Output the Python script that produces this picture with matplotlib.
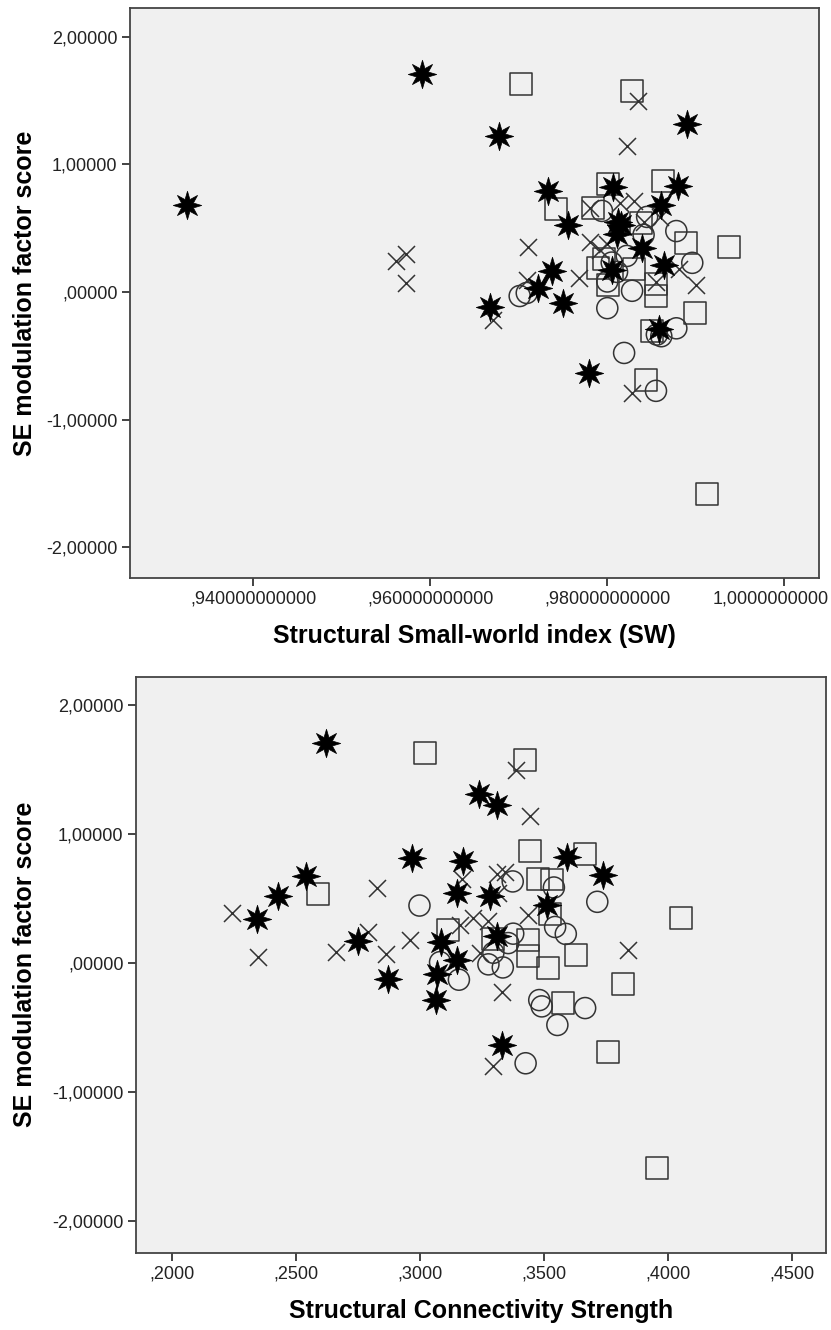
import matplotlib
matplotlib.use("Agg")
import matplotlib.pyplot as plt
from matplotlib.path import Path
from matplotlib.transforms import ScaledTranslation

plt.rcParams['font.family'] = ['Liberation Sans', 'DejaVu Sans']

# ---- data: each group shares y (SE modulation factor score) across both panels ----
# circles
circ_y  = [0.635, 0.588, 0.477, 0.448, 0.282, 0.228, 0.230, 0.157, 0.082, 0.009,
           -0.008, -0.032, -0.127, -0.285, -0.334, -0.347, -0.478, -0.775]
circ_sw = [0.9794, 0.9845, 0.9878, 0.9841, 0.9822, 0.9896, 0.9805, 0.9811, 0.9800, 0.9828,
           0.9709, 0.9701, 0.9800, 0.9878, 0.9856, 0.9861, 0.9819, 0.9855]
circ_sc = [0.3375, 0.3541, 0.3716, 0.2999, 0.3546, 0.3589, 0.3377, 0.3357, 0.3297, 0.3082,
           0.3277, 0.3335, 0.3158, 0.3482, 0.3492, 0.3667, 0.3555, 0.3427]

# squares
sq_y  = [1.628, 1.576, 0.871, 0.846, 0.655, 0.650, 0.537, 0.386, 0.352, 0.256,
         0.185, 0.178, 0.058, 0.065, -0.035, -0.162, -0.305, -0.690, -1.585]
sq_sw = [0.9703, 0.9828, 0.9863, 0.9801, 0.9784, 0.9742, 0.9838, 0.9889, 0.9938, 0.9796,
         0.9789, 0.9830, 0.9801, 0.9855, 0.9855, 0.9899, 0.9850, 0.9844, 0.9913]
sq_sc = [0.3021, 0.3424, 0.3445, 0.3667, 0.3478, 0.3532, 0.2591, 0.3525, 0.4054, 0.3115,
         0.3297, 0.3438, 0.3435, 0.3629, 0.3519, 0.3821, 0.3579, 0.3760, 0.3956]

# crosses
x_y  = [1.498, 1.146, 0.709, 0.696, 0.656, 0.585, 0.546, 0.394, 0.373, 0.355,
        0.332, 0.300, 0.240, 0.182, 0.107, 0.090, 0.081, 0.070, 0.052, -0.220, -0.795]
x_sw = [0.9835, 0.9822, 0.9830, 0.9814, 0.9780, 0.9859, 0.9841, 0.9780, 0.9800, 0.9710,
        0.9792, 0.9573, 0.9561, 0.9881, 0.9768, 0.9709, 0.9855, 0.9573, 0.9900, 0.9671, 0.9828]
x_sc = [0.3390, 0.3445, 0.3344, 0.3310, 0.3169, 0.2827, 0.3317, 0.2242, 0.3438, 0.3216,
        0.3277, 0.3163, 0.2793, 0.2961, 0.3841, 0.2663, 0.3243, 0.2864, 0.2347, 0.3331, 0.3297]

# stars
st_y  = [1.705, 1.315, 1.225, 0.828, 0.819, 0.793, 0.685, 0.680, 0.546, 0.524, 0.521,
         0.452, 0.341, 0.208, 0.172, 0.162, 0.029, -0.086, -0.119, -0.288, -0.632]
st_sw = [0.9591, 0.9890, 0.9678, 0.9880, 0.9806, 0.9733, 0.9861, 0.9325, 0.9812, 0.9816, 0.9756,
         0.9811, 0.9839, 0.9864, 0.9805, 0.9738, 0.9722, 0.9750, 0.9667, 0.9858, 0.9779]
st_sc = [0.2622, 0.3239, 0.3313, 0.3593, 0.2968, 0.3173, 0.3738, 0.2542, 0.3152, 0.3283, 0.2427,
         0.3512, 0.2345, 0.3313, 0.2752, 0.3085, 0.3152, 0.3069, 0.2873, 0.3065, 0.3333]

y_ticks = [-2, -1, 0, 1, 2]
y_ticklabels = ["-2,00000", "-1,00000", ",00000", "1,00000", "2,00000"]
sw_ticks = [0.94, 0.96, 0.98, 1.00]
sw_ticklabels = [",940000000000", ",960000000000", ",980000000000", "1,0000000000"]
sc_ticks = [0.20, 0.25, 0.30, 0.35, 0.40, 0.45]
sc_ticklabels = [",2000", ",2500", ",3000", ",3500", ",4000", ",4500"]

ylabel = "SE modulation factor score"
xlabel_top = "Structural Small-world index (SW)"
xlabel_bot = "Structural Connectivity Strength"

# ---- styling ----
BG = "#F0F0F0"
EDGE = "#333333"
star_path = Path.unit_regular_star(8, 0.45)

fig = plt.figure(figsize=(8.31, 13.30), dpi=100)
ax1 = fig.add_axes([130/831, 1 - 578.3/1330, 689/831, 570/1330])
ax2 = fig.add_axes([136/831, 1 - 1252.7/1330, 689.7/831, 576/1330])


def draw(ax, xc, xs, xx, xst):
    ax.set_facecolor(BG)
    ax.scatter(xc, circ_y, s=230, marker='o', facecolors='none', edgecolors=EDGE, linewidths=1.1, zorder=3)
    ax.scatter(xs, sq_y, s=250, marker='s', facecolors='none', edgecolors=EDGE, linewidths=1.1, zorder=3)
    ax.scatter(xx, x_y, s=150, marker='x', c=EDGE, linewidths=1.1, zorder=3)
    ax.scatter(xst, st_y, s=420, marker=star_path, facecolors='black', edgecolors='black', linewidths=0.5, zorder=4)
    ax.set_ylim(-2.244, 2.2226)
    ax.set_yticks(y_ticks)
    ax.set_yticklabels(y_ticklabels)
    ax.set_ylabel(ylabel, fontsize=18, fontweight='bold', va='center')
    ax.tick_params(axis='both', direction='out', length=6, width=1.2, color="#222222",
                   labelsize=13, top=False, right=False, pad=3, labelcolor="#222222")
    for sp in ax.spines.values():
        sp.set_color("#444444")
        sp.set_linewidth(1.3)


draw(ax1, circ_sw, sq_sw, x_sw, st_sw)
ax1.set_xlim(0.92607, 1.00392)
ax1.set_xticks(sw_ticks)
ax1.set_xticklabels(sw_ticklabels)
ax1.set_xlabel(xlabel_top, fontsize=18, fontweight='bold', labelpad=12)
ax1.yaxis.set_label_coords((25 - 130) / 689, 0.5)
# shift the last tick label left so it stays inside the image (as in the reference)
last = ax1.xaxis.get_major_ticks()[-1].label1
last.set_transform(last.get_transform() + ScaledTranslation(-10/72, 0, fig.dpi_scale_trans))

draw(ax2, circ_sc, sq_sc, x_sc, st_sc)
ax2.set_xlim(0.1856, 0.4637)
ax2.set_xticks(sc_ticks)
ax2.set_xticklabels(sc_ticklabels)
ax2.set_xlabel(xlabel_bot, fontsize=18, fontweight='bold', labelpad=12)
ax2.yaxis.set_label_coords((25 - 136) / 689.7, 0.5)

fig.savefig("out.png", dpi=100, facecolor="white")
